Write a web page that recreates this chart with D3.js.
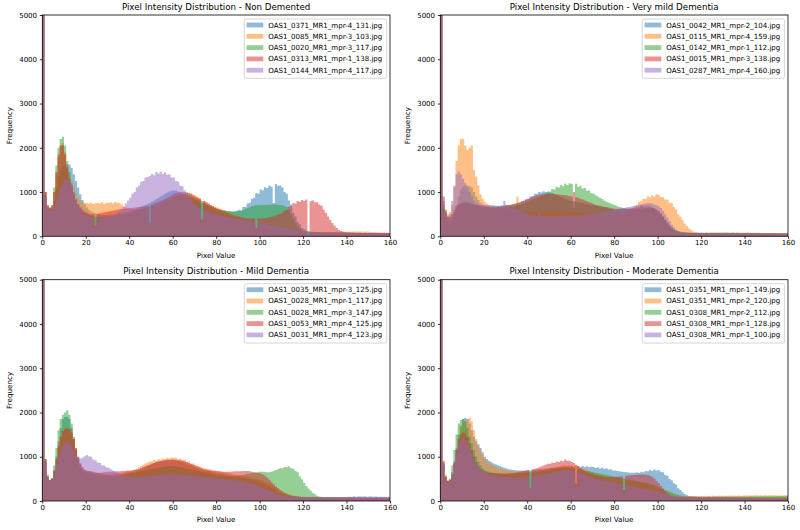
<!DOCTYPE html>
<html>
<head>
<meta charset="utf-8">
<script src="https://cdn.jsdelivr.net/npm/d3@7"></script>
<style>
  body { margin: 0; background: #fff; }
  text { font-family: "DejaVu Sans", sans-serif; fill: #000; }
</style>
</head>
<body>
<div id="chart"></div>
<script>
// histogram counts, one value per pixel-value bin (0..159, bin width 1)

// Non Demented
const nd_0371_4_131 = [
  12000,1000,680,640,620,800,1100,1350,1500,1580,
  1600,1620,1620,1550,1400,1250,1100,950,820,720,
  650,600,560,540,520,500,490,480,480,480,
  480,490,490,500,510,520,530,540,550,560,
  575,590,610,630,650,670,690,710,730,750,
  780,810,840,870,900,930,960,990,1010,1030,
  1040,1030,1010,990,960,930,900,880,860,840,
  820,800,780,760,740,720,700,680,660,640,
  620,610,600,590,580,570,565,560,565,575,
  600,590,660,670,740,760,850,870,980,960,
  1060,1040,1110,1090,1150,1120,750,1180,1140,1150,
  1100,1000,960,810,720,540,450,330,270,190,
  160,130,118,105,102,96,93,99,88,90,
  86,91,84,88,82,85,80,84,79,82,
  78,81,76,80,75,78,74,77,73,76,
  72,75,71,74,70,73,69,72,68,70];
const nd_0085_3_103 = [
  12000,1000,700,650,700,1000,1400,1800,2050,2100,
  1900,1600,1400,1250,1100,980,880,820,780,760,
  750,740,760,730,745,750,740,770,730,760,
  750,770,740,780,760,750,720,680,650,630,
  620,610,600,600,600,610,620,630,640,290,
  660,680,700,720,740,760,780,800,820,850,
  880,910,930,950,960,970,975,970,960,940,
  920,890,860,370,800,770,740,710,690,670,
  650,630,610,590,570,550,530,510,490,470,
  450,430,410,390,370,350,330,310,130,270,
  250,230,210,190,170,150,140,130,120,110,
  105,100,98,96,95,94,93,92,92,91,
  92,95,90,94,91,93,90,96,92,95,
  94,97,95,99,97,100,98,102,100,104,
  103,106,104,108,106,110,107,109,105,107,
  102,98,95,92,90,88,86,85,84,82];
const nd_0020_3_117 = [
  12000,900,650,620,650,1100,1600,2000,2200,2250,
  2050,1700,1450,1200,1000,850,720,620,560,520,
  490,470,460,450,440,440,440,440,440,445,
  450,455,460,470,480,490,500,510,520,530,
  540,555,570,585,600,615,630,645,660,680,
  700,720,740,760,780,800,820,840,860,880,
  900,910,920,930,940,940,930,920,900,880,
  860,840,820,800,760,720,690,660,640,620,
  600,590,580,575,570,565,560,555,555,560,
  570,580,600,620,640,660,680,690,700,700,
  700,705,710,710,715,715,720,720,715,710,
  700,690,660,600,500,400,300,220,170,130,
  110,100,94,91,87,88,84,86,82,84,
  81,83,80,82,79,81,78,80,77,79,
  76,78,75,77,74,76,73,75,72,74,
  71,73,70,72,69,71,68,70,67,69];
const nd_0313_1_138 = [
  12000,1000,700,650,700,1000,1450,1850,2050,2050,
  1850,1550,1300,1100,950,820,720,650,600,560,
  530,510,500,500,230,510,520,530,540,550,
  560,570,580,590,600,610,620,625,630,635,
  640,645,650,655,660,665,670,680,690,310,
  720,740,760,780,800,820,840,870,900,930,
  960,980,990,1000,1000,1000,990,980,960,930,
  900,870,850,380,800,770,740,710,680,650,
  620,600,580,560,540,520,500,480,460,450,
  440,430,420,410,400,400,400,400,180,400,
  400,405,410,420,430,440,455,470,490,510,
  530,580,600,670,680,750,740,800,780,820,
  800,830,0,790,810,770,770,720,690,600,
  530,450,370,300,240,190,150,120,100,90,
  85,82,84,80,82,78,80,77,79,76,
  77,74,76,73,75,72,74,71,73,70];
const nd_0144_4_117 = [
  12000,900,650,600,580,650,800,950,1100,1200,
  1280,1300,1250,1150,1000,850,720,620,550,500,
  470,450,440,430,200,430,430,430,435,440,
  450,460,470,490,520,560,610,670,740,810,
  870,960,1000,1100,1140,1230,1250,1330,1340,1370,
  1410,1380,1450,1420,1460,1410,1440,1390,1400,1330,
  1330,1250,1240,1150,1130,1040,990,880,830,750,
  710,670,640,290,590,570,550,530,510,500,
  490,480,470,460,450,440,430,420,410,400,
  390,380,370,360,350,340,330,320,140,300,
  290,280,270,260,250,240,230,220,210,200,
  190,180,170,160,150,140,130,120,115,110,
  105,101,100,96,97,93,94,90,91,88,
  87,89,85,86,83,85,82,83,80,82,
  79,80,77,79,76,77,75,76,74,75,
  73,74,72,73,71,72,70,71,69,70];

// Very mild Dementia
const vmd_0042_2_104 = [
  12000,700,450,320,300,350,500,700,900,1050,
  1120,1150,1150,1130,1100,1000,900,820,760,720,
  700,690,680,680,680,680,690,690,700,700,
  700,705,710,720,730,740,760,780,800,830,
  850,900,910,960,960,1000,990,1020,1000,1010,
  990,970,950,930,910,890,870,850,830,810,
  800,790,780,770,760,750,740,730,720,710,
  700,690,680,670,660,650,640,630,620,610,
  600,600,600,600,600,610,620,630,640,650,
  660,670,680,690,700,700,690,670,640,600,
  550,480,420,350,290,230,180,150,120,100,
  90,85,80,78,76,75,74,73,72,72,
  72,70,73,69,71,68,72,70,69,71,
  68,70,67,69,71,68,66,70,67,69,
  68,66,69,67,65,68,66,64,67,65,
  66,64,67,63,65,66,64,62,65,63];
const vmd_0115_4_159 = [
  12000,900,600,500,550,700,1100,1700,2050,2200,
  2200,2050,1950,2000,2050,1500,1350,1150,950,850,
  780,740,710,690,680,670,660,650,640,630,
  620,610,600,590,580,900,570,560,560,560,
  555,565,550,560,570,555,560,545,565,550,
  560,550,565,545,555,540,560,545,550,535,
  545,530,540,525,535,520,530,515,525,510,
  520,505,515,500,510,495,505,490,500,490,
  495,490,500,505,520,540,570,600,640,680,
  710,780,790,850,840,900,880,930,900,950,
  940,890,880,830,830,760,750,660,610,500,
  440,360,290,230,180,140,110,95,85,80,
  78,76,80,75,77,74,78,76,73,77,
  75,78,74,76,79,75,77,80,76,78,
  77,80,76,79,75,78,74,77,76,73,
  75,72,74,71,73,70,72,74,71,73];
const vmd_0142_1_112 = [
  12000,650,600,450,400,450,550,650,720,760,
  780,790,780,760,740,720,700,690,680,670,
  660,660,650,650,650,650,650,650,650,655,
  660,665,670,680,690,700,710,730,750,770,
  790,810,830,850,870,890,910,930,960,990,
  1010,1070,1060,1120,1100,1160,1130,1190,1160,1200,
  1180,650,1190,1120,1140,1080,1090,1030,1040,970,
  960,930,900,870,840,810,780,760,740,720,
  700,680,660,650,640,630,620,610,600,600,
  600,610,620,630,640,650,650,640,620,590,
  550,500,440,380,320,260,210,170,140,120,
  105,95,90,87,85,83,82,81,80,80,
  80,82,85,81,84,86,83,87,85,88,
  86,84,87,83,85,82,84,80,83,79,
  81,78,80,77,79,76,78,75,77,74,
  76,73,75,72,74,71,73,70,72,69];
const vmd_0015_3_138 = [
  12000,800,550,450,450,500,600,680,720,740,
  750,750,750,740,730,720,710,700,690,680,
  670,660,660,650,650,650,660,670,680,690,
  700,710,720,730,740,750,770,790,810,830,
  850,870,890,910,930,940,950,960,960,960,
  960,960,955,950,945,940,935,930,920,910,
  900,1000,880,870,850,830,810,790,770,750,
  730,710,700,690,680,670,660,650,640,630,
  620,620,620,620,620,620,620,625,630,635,
  640,645,700,650,650,650,650,640,620,600,
  570,520,450,370,290,220,170,130,110,95,
  85,80,78,76,75,74,73,72,72,71,
  71,69,72,68,70,67,71,66,69,65,
  68,66,64,67,63,65,62,66,61,64,
  63,60,62,61,59,62,58,60,57,59,
  58,56,57,55,58,54,56,53,55,52];
const vmd_0287_4_160 = [
  12000,900,500,400,500,800,1150,1400,1460,1400,
  1300,1200,1100,1000,900,800,750,720,700,700,
  700,700,700,700,700,690,680,680,670,800,
  660,650,640,630,620,600,580,560,540,520,
  500,490,480,470,460,550,455,450,450,450,
  450,450,450,450,450,450,455,455,460,460,
  465,465,470,470,475,480,485,490,495,500,
  505,510,520,530,540,550,560,570,580,590,
  600,610,620,630,640,650,660,670,680,690,
  700,710,720,730,740,750,750,740,720,700,
  680,640,580,500,420,340,260,200,150,120,
  100,90,85,82,80,78,77,76,75,74,
  73,72,74,71,70,73,69,71,68,70,
  67,69,66,68,65,67,64,66,63,65,
  64,62,65,61,63,60,62,59,61,58,
  60,57,59,56,58,55,57,54,56,53];

// Mild Dementia
const md_0035_3_125 = [
  12000,900,550,470,500,700,1000,1350,1650,1850,
  1900,1900,1850,1650,1400,1150,950,820,740,700,
  680,670,660,650,640,630,620,610,600,595,
  590,590,590,595,600,605,610,620,630,640,
  650,660,670,690,710,730,750,780,800,820,
  840,860,880,890,900,910,920,920,920,920,
  920,910,900,890,880,860,840,820,800,780,
  760,740,720,710,700,690,680,670,660,650,
  640,630,620,610,600,590,580,570,560,550,
  540,530,520,510,500,490,480,470,460,440,
  420,400,380,350,320,290,260,230,200,180,
  160,145,130,120,110,105,100,95,92,90,
  88,86,85,84,86,83,85,82,84,81,
  83,85,82,86,84,88,86,90,88,92,
  94,96,98,100,97,101,99,103,100,98,
  102,99,97,100,96,98,95,97,93,95];
const md_0028_1_117 = [
  12000,850,550,480,500,650,900,1200,1450,1600,
  1650,1650,1620,1550,1400,1200,1000,850,760,710,
  690,680,670,660,650,640,630,620,615,610,
  610,610,615,620,625,630,640,650,660,670,
  680,690,710,730,760,790,820,850,870,890,
  890,930,910,950,930,960,950,980,960,990,
  970,980,940,960,920,930,880,890,840,850,
  810,790,770,750,740,730,720,710,700,690,
  680,670,660,650,640,630,620,610,600,590,
  580,570,560,550,540,530,520,510,500,490,
  480,460,440,420,400,370,340,310,280,250,
  220,190,170,150,135,125,115,108,102,98,
  96,94,95,92,93,90,91,89,90,87,
  88,86,87,85,86,84,85,83,84,82,
  83,81,82,80,81,79,80,78,79,77,
  78,76,77,75,76,74,75,73,74,72];
const md_0028_3_147 = [
  12000,950,600,480,520,800,1200,1600,1850,1950,
  2000,2050,1950,1750,1450,1150,920,780,700,660,
  640,620,610,600,590,580,575,570,565,560,
  560,560,565,570,575,580,585,590,600,610,
  620,630,640,650,660,670,680,690,700,710,
  720,730,740,750,760,770,780,790,790,790,
  790,780,770,760,750,740,730,720,710,700,
  690,680,670,660,650,640,630,620,610,600,
  590,580,575,570,565,560,560,560,565,570,
  575,580,590,600,610,620,630,640,650,660,
  660,660,655,650,650,660,680,700,720,740,
  740,770,760,780,740,730,680,650,560,490,
  410,340,280,230,180,150,120,100,90,85,
  82,79,78,80,76,77,74,76,72,74,
  73,71,72,70,71,69,70,68,69,67,
  68,66,67,65,66,64,65,63,64,62];
const md_0053_4_125 = [
  12000,950,550,470,500,680,950,1250,1450,1580,
  1620,1640,1620,1550,1400,1200,1000,850,760,700,
  680,670,660,650,640,640,640,645,650,655,
  660,660,665,670,670,675,680,680,685,690,
  690,695,700,710,720,740,760,780,800,820,
  840,860,880,890,900,910,920,930,930,940,
  940,930,930,920,910,900,880,860,840,820,
  800,780,760,740,720,710,700,690,680,680,
  670,670,660,660,660,660,660,665,670,670,
  670,675,680,680,680,670,660,650,640,630,
  620,600,570,530,480,430,380,330,280,240,
  210,180,160,140,125,115,105,100,95,90,
  88,86,87,84,85,82,84,81,83,80,
  81,79,80,78,79,77,78,76,77,75,
  76,78,74,77,73,76,72,75,71,74,
  70,73,69,72,68,71,67,70,66,69];
const md_0031_4_123 = [
  12000,850,500,450,480,600,800,1000,1150,1250,
  1300,1320,1300,1250,1150,1050,980,960,980,1010,
  1040,1010,1000,940,920,870,860,810,800,760,
  750,720,690,660,640,620,600,580,570,560,
  550,545,540,540,540,545,550,555,560,565,
  570,575,580,585,590,595,600,600,600,600,
  600,600,600,595,590,585,580,575,570,565,
  560,555,550,545,540,535,530,525,520,515,
  510,505,500,495,490,485,480,475,470,460,
  450,440,430,420,410,400,385,370,350,330,
  310,290,270,250,230,210,190,170,150,135,
  125,115,108,102,98,95,92,90,88,86,
  85,84,86,83,85,82,84,81,83,80,
  82,84,81,85,83,87,85,89,87,91,
  90,93,91,95,92,96,93,90,94,91,
  89,92,88,91,87,90,86,89,85,88];

// Moderate Dementia
const mod_0351_1_149 = [
  12000,850,550,450,480,650,900,1200,1500,1700,
  1850,1880,1850,1750,1600,1450,1350,1280,1200,1100,
  1000,950,910,880,850,830,810,790,770,750,
  735,720,710,700,695,690,690,690,690,690,
  690,690,700,705,710,715,720,725,730,735,
  740,745,750,755,760,765,770,775,780,780,
  790,770,400,790,770,790,770,785,760,775,
  770,745,760,735,750,725,740,710,720,690,
  690,680,670,660,655,650,645,640,640,640,
  650,635,660,650,680,670,700,685,710,690,
  700,660,650,590,570,500,470,400,370,290,
  250,200,160,130,115,105,100,98,96,95,
  94,96,93,95,92,97,94,96,93,95,
  92,94,91,93,95,92,94,91,93,90,
  92,89,91,88,90,87,89,86,88,85,
  87,84,86,83,85,82,84,81,83,80];
const mod_0351_2_120 = [
  12000,900,600,480,480,600,850,1150,1450,1650,
  1750,1800,1850,1880,1800,1600,1400,1250,1150,1050,
  960,900,860,830,800,780,760,740,725,710,
  700,690,680,670,665,660,660,660,660,660,
  660,300,665,670,680,690,700,710,720,730,
  740,750,760,770,780,790,800,800,800,800,
  790,780,800,760,750,740,720,700,680,660,
  640,620,600,590,580,570,560,550,540,530,
  520,510,500,490,250,480,470,460,450,440,
  430,420,410,400,390,380,370,360,340,320,
  300,280,260,240,220,200,180,160,145,135,
  125,120,118,116,115,115,115,115,115,115,
  114,117,113,116,112,118,115,119,116,120,
  117,121,118,122,119,123,120,124,121,125,
  122,126,123,127,124,128,125,129,126,130,
  127,131,128,132,129,126,130,127,131,128];
const mod_0308_2_112 = [
  12000,800,550,450,500,800,1150,1500,1750,1830,
  1850,1800,1650,1450,1300,1150,1000,880,800,740,
  700,680,660,650,640,630,625,620,615,610,
  610,610,610,615,620,625,630,635,640,645,
  650,650,655,660,665,670,675,680,690,700,
  710,720,730,735,740,745,750,750,750,745,
  740,735,380,720,710,700,690,680,670,660,
  650,640,630,620,610,600,590,580,570,560,
  550,540,530,520,510,500,490,480,470,460,
  450,440,430,420,410,400,385,370,350,330,
  310,290,270,250,230,210,190,170,150,135,
  120,110,105,100,98,96,95,94,93,92,
  91,93,90,95,92,96,93,97,94,98,
  95,99,96,100,97,101,98,102,99,103,
  100,104,101,105,102,106,103,107,104,108,
  105,109,106,110,107,111,108,112,109,113];
const mod_0308_1_128 = [
  12000,900,550,450,470,600,850,1150,1400,1500,
  1550,1530,1450,1300,1150,1000,880,790,730,690,
  660,650,640,630,625,620,620,620,620,620,
  620,625,630,635,640,650,660,670,680,690,
  700,300,720,730,740,760,780,800,820,840,
  840,870,860,890,880,910,900,940,910,910,
  880,860,820,780,740,710,680,660,640,620,
  600,590,580,570,560,550,545,540,540,540,
  545,550,555,560,250,570,575,580,585,590,
  595,600,600,600,595,590,570,540,500,450,
  400,340,280,220,170,130,110,100,95,90,
  88,86,85,84,83,82,82,81,81,80,
  80,79,81,78,80,77,79,76,78,75,
  77,74,76,73,75,72,74,71,73,70,
  72,69,71,68,70,67,69,66,68,65,
  67,64,66,63,65,62,64,61,63,60];
const mod_0308_1_100 = [
  12000,850,500,420,450,600,850,1100,1300,1380,
  1400,1380,1300,1200,1080,950,850,770,710,670,
  640,620,600,590,580,570,565,560,555,550,
  545,540,540,535,530,530,530,530,530,535,
  540,270,550,560,570,580,590,600,610,620,
  630,640,650,660,670,680,690,700,700,700,
  690,680,350,660,640,620,600,580,560,540,
  520,500,490,480,470,460,450,440,430,420,
  410,400,390,380,190,360,350,340,330,320,
  310,300,290,280,270,260,250,240,230,220,
  210,200,185,170,155,140,125,115,105,100,
  95,92,90,88,86,85,84,83,82,81,
  80,81,79,82,78,81,77,80,76,79,
  75,78,74,77,73,76,72,75,71,74,
  70,73,69,72,68,71,67,70,66,69,
  65,68,64,67,63,66,62,65,61,64];

const ndFiles = ["OAS1_0371_MR1_mpr-4_131.jpg", "OAS1_0085_MR1_mpr-3_103.jpg", "OAS1_0020_MR1_mpr-3_117.jpg", "OAS1_0313_MR1_mpr-1_138.jpg", "OAS1_0144_MR1_mpr-4_117.jpg"];
const vmdFiles = ["OAS1_0042_MR1_mpr-2_104.jpg", "OAS1_0115_MR1_mpr-4_159.jpg", "OAS1_0142_MR1_mpr-1_112.jpg", "OAS1_0015_MR1_mpr-3_138.jpg", "OAS1_0287_MR1_mpr-4_160.jpg"];
const mdFiles = ["OAS1_0035_MR1_mpr-3_125.jpg", "OAS1_0028_MR1_mpr-1_117.jpg", "OAS1_0028_MR1_mpr-3_147.jpg", "OAS1_0053_MR1_mpr-4_125.jpg", "OAS1_0031_MR1_mpr-4_123.jpg"];
const modFiles = ["OAS1_0351_MR1_mpr-1_149.jpg", "OAS1_0351_MR1_mpr-2_120.jpg", "OAS1_0308_MR1_mpr-2_112.jpg", "OAS1_0308_MR1_mpr-1_128.jpg", "OAS1_0308_MR1_mpr-1_100.jpg"];

const xTicks = [0, 20, 40, 60, 80, 100, 120, 140, 160];
const yTicks = [0, 1000, 2000, 3000, 4000, 5000];

const colors = ["#1f77b4", "#ff7f0e", "#2ca02c", "#d62728", "#9467bd"];

// 2x2 grid of axes
const W = 347.7, H = 221.3;
const panels = [
  {title: "Pixel Intensity Distribution - Non Demented", files: ndFiles, series: [nd_0371_4_131, nd_0085_3_103, nd_0020_3_117, nd_0313_1_138, nd_0144_4_117], left: 42.3, top: 15},
  {title: "Pixel Intensity Distribution - Very mild Dementia", files: vmdFiles, series: [vmd_0042_2_104, vmd_0115_4_159, vmd_0142_1_112, vmd_0015_3_138, vmd_0287_4_160], left: 440.3, top: 15},
  {title: "Pixel Intensity Distribution - Mild Dementia", files: mdFiles, series: [md_0035_3_125, md_0028_1_117, md_0028_3_147, md_0053_4_125, md_0031_4_123], left: 42.3, top: 279.7},
  {title: "Pixel Intensity Distribution - Moderate Dementia", files: modFiles, series: [mod_0351_1_149, mod_0351_2_120, mod_0308_2_112, mod_0308_1_128, mod_0308_1_100], left: 440.3, top: 279.7}
];

const svg = d3.select("#chart").append("svg")
  .attr("width", 800)
  .attr("height", 530);

svg.append("rect").attr("width", 800).attr("height", 530).attr("fill", "#fff");

panels.forEach((p, pi) => {
  const g = svg.append("g").attr("transform", `translate(${p.left},${p.top})`);

  const x = d3.scaleLinear().domain([0, 160]).range([0, W]);
  const y = d3.scaleLinear().domain([0, 5000]).range([H, 0]);

  // clip so the huge bin at 0 stops at the top of the axes
  svg.append("clipPath").attr("id", "clip" + pi)
    .append("rect").attr("width", W).attr("height", H);

  // each histogram as one step shape, bins of width 1
  const area = d3.area()
    .x(d => x(d[0]))
    .y0(y(0))
    .y1(d => y(d[1]));

  p.series.forEach((vals, si) => {
    const pts = [];
    vals.forEach((v, i) => { pts.push([i, v]); pts.push([i + 1, v]); });
    g.append("path")
      .attr("clip-path", `url(#clip${pi})`)
      .attr("d", area(pts))
      .attr("fill", colors[si])
      .attr("fill-opacity", 0.5);
  });

  // axes
  const xAxis = g.append("g").attr("transform", `translate(0,${H})`)
    .call(d3.axisBottom(x).tickValues(xTicks).tickSize(2.5).tickSizeOuter(0).tickPadding(1.7).tickFormat(d3.format("d")));
  const yAxis = g.append("g")
    .call(d3.axisLeft(y).tickValues(yTicks).tickSize(2.5).tickSizeOuter(0).tickPadding(2.8).tickFormat(d3.format("d")));
  [xAxis, yAxis].forEach(a => {
    a.select(".domain").remove();
    a.selectAll("line").attr("stroke", "#000").attr("stroke-width", 0.8);
    a.selectAll("text").attr("font-size", 7).attr("font-family", "DejaVu Sans, sans-serif").attr("fill", "#000");
  });

  // frame
  g.append("rect").attr("width", W).attr("height", H)
    .attr("fill", "none").attr("stroke", "#000").attr("stroke-width", 0.8);

  // title and labels
  g.append("text").attr("x", W / 2).attr("y", -5.4)
    .attr("text-anchor", "middle").attr("font-size", 8.7).text(p.title);
  g.append("text").attr("x", W / 2).attr("y", H + 21.3)
    .attr("text-anchor", "middle").attr("font-size", 7.2).text("Pixel Value");
  g.append("text")
    .attr("transform", `translate(${-30},${H / 2}) rotate(-90)`)
    .attr("text-anchor", "middle").attr("font-size", 7.2).text("Frequency");

  // legend, upper right
  const leg = g.append("g");
  const box = leg.append("rect")
    .attr("y", 4).attr("height", 59.3).attr("rx", 2)
    .attr("fill", "#fff").attr("fill-opacity", 0.8)
    .attr("stroke", "#cccccc").attr("stroke-width", 0.8);
  let maxLen = 0;
  const texts = p.files.map((f, i) => {
    const t = leg.append("text").attr("y", 10 + i * 11.3 + 2.5).attr("font-size", 7.05).text(f);
    maxLen = Math.max(maxLen, t.node().getComputedTextLength());
    return t;
  });
  const boxW = 24 + maxLen + 4.4;
  const boxX = W - 3.3 - boxW;
  box.attr("x", boxX).attr("width", boxW);
  texts.forEach(t => t.attr("x", boxX + 24));
  p.files.forEach((f, i) => {
    leg.append("rect")
      .attr("x", boxX + 2.4).attr("y", 10 + i * 11.3 - 2.4)
      .attr("width", 16.7).attr("height", 4.8)
      .attr("fill", colors[i]).attr("fill-opacity", 0.5);
  });
});
</script>
</body>
</html>
